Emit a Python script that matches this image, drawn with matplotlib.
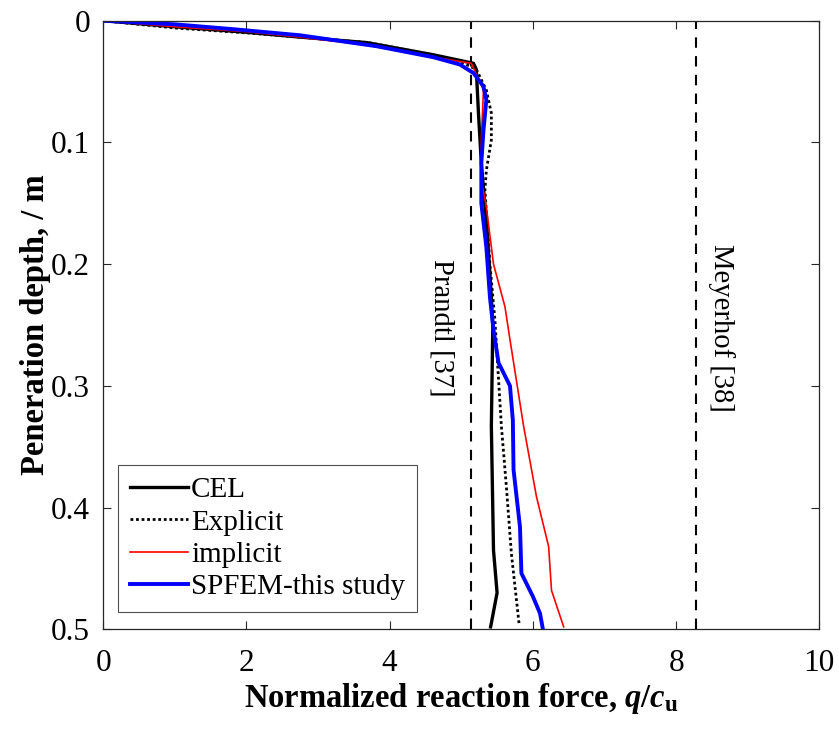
import matplotlib
matplotlib.use("Agg")
import matplotlib.pyplot as plt

plt.rcParams['font.family'] = ['Liberation Serif', 'DejaVu Serif']
plt.rcParams['mathtext.fontset'] = 'custom'
plt.rcParams['mathtext.rm'] = 'Liberation Serif:bold'
plt.rcParams['mathtext.it'] = 'Liberation Serif:italic:bold'
plt.rcParams['mathtext.bf'] = 'Liberation Serif:bold'

# data: (force q/cu, depth m)
cel_x = [0, 1.0, 2.0, 2.75, 3.68, 4.61, 5.17, 5.21, 5.24, 5.28, 5.36, 5.42, 5.44, 5.42, 5.45, 5.50, 5.41]
cel_y = [0, 0.005, 0.0095, 0.0135, 0.018, 0.028, 0.035, 0.040, 0.076, 0.117, 0.172, 0.227, 0.251, 0.333, 0.435, 0.470, 0.498]

exp_x = [0, 1.0, 2.0, 3.7, 4.6, 5.0, 5.21, 5.35, 5.42, 5.42, 5.35, 5.33, 5.40, 5.47, 5.56, 5.63, 5.70, 5.81]
exp_y = [0, 0.006, 0.010, 0.018, 0.028, 0.034, 0.040, 0.057, 0.076, 0.098, 0.123, 0.139, 0.200, 0.246, 0.333, 0.383, 0.438, 0.497]

imp_x = [0, 1.0, 2.0, 2.75, 3.68, 4.61, 5.14, 5.31, 5.28, 5.28, 5.35, 5.45, 5.61, 5.68, 5.87, 6.05, 6.22, 6.26, 6.43]
imp_y = [0, 0.005, 0.009, 0.0135, 0.020, 0.030, 0.035, 0.057, 0.098, 0.131, 0.153, 0.200, 0.235, 0.262, 0.333, 0.391, 0.432, 0.468, 0.498]

sp_x = [0, 1.0, 1.82, 2.75, 3.82, 4.61, 4.98, 5.17, 5.31, 5.35, 5.31, 5.28, 5.28, 5.35, 5.40, 5.45, 5.52, 5.68, 5.72, 5.73, 5.82, 5.84, 6.00, 6.10, 6.14]
sp_y = [0, 0.003, 0.007, 0.012, 0.021, 0.030, 0.036, 0.043, 0.054, 0.065, 0.090, 0.117, 0.150, 0.186, 0.227, 0.254, 0.281, 0.300, 0.328, 0.369, 0.416, 0.454, 0.473, 0.487, 0.500]

prandtl = 5.14
meyerhof = 8.28

fig = plt.figure(figsize=(8.39, 7.31), dpi=100)
ax = fig.add_axes([0.1231, 0.1391, 0.8534, 0.8326])

ax.axvline(prandtl, color='black', lw=1.5, ls=(0, (5, 4)))
ax.axvline(meyerhof, color='black', lw=1.5, ls=(0, (5, 4)))

ax.plot(cel_x, cel_y, color='black', lw=2.4, label='CEL')
ax.plot(exp_x, exp_y, color='black', lw=2.0, ls=(0, (1, 1)), label='Explicit')
ax.plot(imp_x, imp_y, color='red', lw=1.2, label='implicit')
ax.plot(sp_x, sp_y, color='blue', lw=2.8, label='SPFEM-this study')

ax.set_xlim(0, 10)
ax.set_ylim(0.5, 0)
ax.set_xticks([0, 2, 4, 6, 8, 10])
ax.set_yticks([0, 0.1, 0.2, 0.3, 0.4, 0.5])
ax.set_yticklabels(['0', '0.1', '0.2', '0.3', '0.4', '0.5'])
ax.tick_params(direction='in', top=True, right=True, labelsize=22.5, length=5.5, width=0.8,
               color='#262626')
ax.tick_params(axis='x', pad=14)
ax.tick_params(axis='y', pad=9.5)
for s in ax.spines.values():
    s.set_linewidth(0.9)
    s.set_color('#262626')

ax.set_xlabel(r'Normalized reaction force, $\it{q}$/$\it{c}_\mathbf{u}$', fontsize=23.5,
              fontweight='bold', labelpad=2)
ax.set_ylabel('Peneration depth, / m', fontsize=23.5, fontweight='bold', labelpad=0)

ax.text(4.72, 0.2525, 'Prandtl [37]', rotation=-90, fontsize=20.6, ha='center', va='center')
ax.text(8.63, 0.2525, 'Meyerhof [38]', rotation=-90, fontsize=20.6, ha='center', va='center')

leg = ax.legend(loc='lower left', bbox_to_anchor=(0.021, 0.029), fontsize=21, frameon=True,
                fancybox=False, edgecolor='#262626', handlelength=2.0, handletextpad=0.1,
                borderpad=0.4, labelspacing=0.2, borderaxespad=0)
leg.get_frame().set_linewidth(0.8)

fig.savefig('out.png', dpi=100)
